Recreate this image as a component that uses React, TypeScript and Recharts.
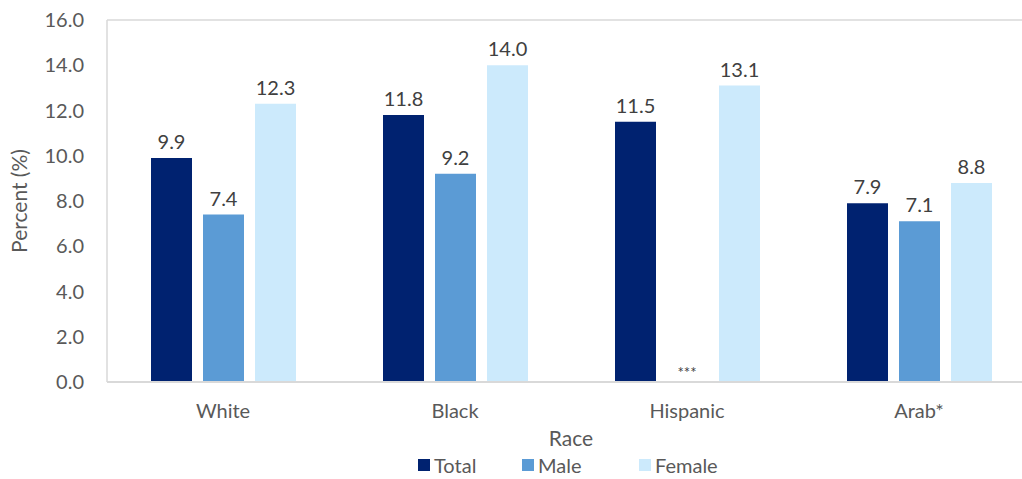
import React from 'react';
import { BarChart, Bar, XAxis, YAxis, CartesianGrid, Legend, LabelList, ReferenceDot } from 'recharts';

const races = ['White', 'Black', 'Hispanic', 'Arab*'];
const totalValues = [9.9, 11.8, 11.5, 7.9];
const maleValues: (number | null)[] = [7.4, 9.2, null, 7.1];
const femaleValues = [12.3, 14.0, 13.1, 8.8];
const missingLabel = '***';
const yTicks = [0, 2, 4, 6, 8, 10, 12, 14, 16];

const seriesNames = ['Total', 'Male', 'Female'];
const colors = ['#002270', '#5b9bd5', '#cceafc'];

const data = races.map((r, i) => ({
  race: r,
  Total: totalValues[i],
  Male: maleValues[i],
  Female: femaleValues[i],
}));

const FONT = 'Lato, "Noto Sans", sans-serif';
const legendWidths = [104, 117, 100];

const renderLegend = () => (
  <div style={{ display: 'flex', justifyContent: 'flex-start', paddingLeft: 418, paddingTop: 4, fontFamily: FONT, fontSize: 20, color: '#595959' }}>
    {seriesNames.map((n, i) => (
      <div key={n} style={{ display: 'flex', alignItems: 'center', width: legendWidths[i] }}>
        <span style={{ display: 'inline-block', width: 12, height: 12, background: colors[i], marginRight: 4 }} />
        <span>{n}</span>
      </div>
    ))}
  </div>
);

const MissingLabel = (props: any) => {
  const { viewBox } = props;
  const cx = viewBox.x + (viewBox.width || 0) / 2;
  return (
    <text x={cx} y={viewBox.y - 4} textAnchor="middle" fill="#404040" fontFamily={FONT} fontSize={15}>
      {missingLabel}
    </text>
  );
};

const fmt = (v: any) => (v == null ? '' : Number(v).toFixed(1));

export default function App() {
  return (
    <div style={{ position: 'fixed', left: 0, top: 0, width: 1022, height: 479, overflow: 'hidden', background: '#fff' }}>
      <BarChart
        width={1060}
        height={479}
        data={data}
        margin={{ top: 20, right: 25, left: 0, bottom: 0 }}
        barSize={41}
        barGap={11}
        barCategoryGap={43}
      >
        <CartesianGrid
          stroke="#d9d9d9"
          strokeWidth={1.5}
          horizontalCoordinatesGenerator={(p: any) => [p.offset.top]}
          verticalCoordinatesGenerator={(p: any) => [p.offset.left, p.offset.left + p.offset.width]}
        />
        <XAxis
          dataKey="race"
          height={67}
          axisLine={{ stroke: '#d9d9d9', strokeWidth: 2 }}
          tickLine={false}
          tick={{ fill: '#595959', fontFamily: FONT, fontSize: 20 }}
          tickMargin={16}
          label={{ value: 'Race', position: 'insideBottom', offset: 3, fill: '#595959', fontFamily: FONT, fontSize: 21 }}
        />
        <YAxis
          width={107}
          domain={[0, 16]}
          ticks={yTicks}
          interval={0}
          axisLine={false}
          tickLine={false}
          tickFormatter={(v: number) => v.toFixed(1)}
          tick={{ fill: '#595959', fontFamily: FONT, fontSize: 20 }}
          tickMargin={17}
          label={{ value: 'Percent (%)', angle: -90, position: 'insideLeft', offset: 20, fill: '#595959', fontFamily: FONT, fontSize: 21, style: { textAnchor: 'middle' } }}
        />
        <Legend verticalAlign="bottom" height={30} content={renderLegend} />
        <Bar dataKey="Total" fill={colors[0]} isAnimationActive={false}>
          <LabelList dataKey="Total" position="top" offset={9} formatter={fmt} fill="#404040" fontFamily={FONT} fontSize={20} />
        </Bar>
        <Bar dataKey="Male" fill={colors[1]} isAnimationActive={false}>
          <LabelList dataKey="Male" position="top" offset={9} formatter={fmt} fill="#404040" fontFamily={FONT} fontSize={20} />
        </Bar>
        <Bar dataKey="Female" fill={colors[2]} isAnimationActive={false}>
          <LabelList dataKey="Female" position="top" offset={9} formatter={fmt} fill="#404040" fontFamily={FONT} fontSize={20} />
        </Bar>
        {races.map((r, i) =>
          maleValues[i] == null ? (
            <ReferenceDot key={r} x={r} y={0} r={0} stroke="none" fill="none" ifOverflow="visible" label={<MissingLabel />} />
          ) : null
        )}
      </BarChart>
    </div>
  );
}
